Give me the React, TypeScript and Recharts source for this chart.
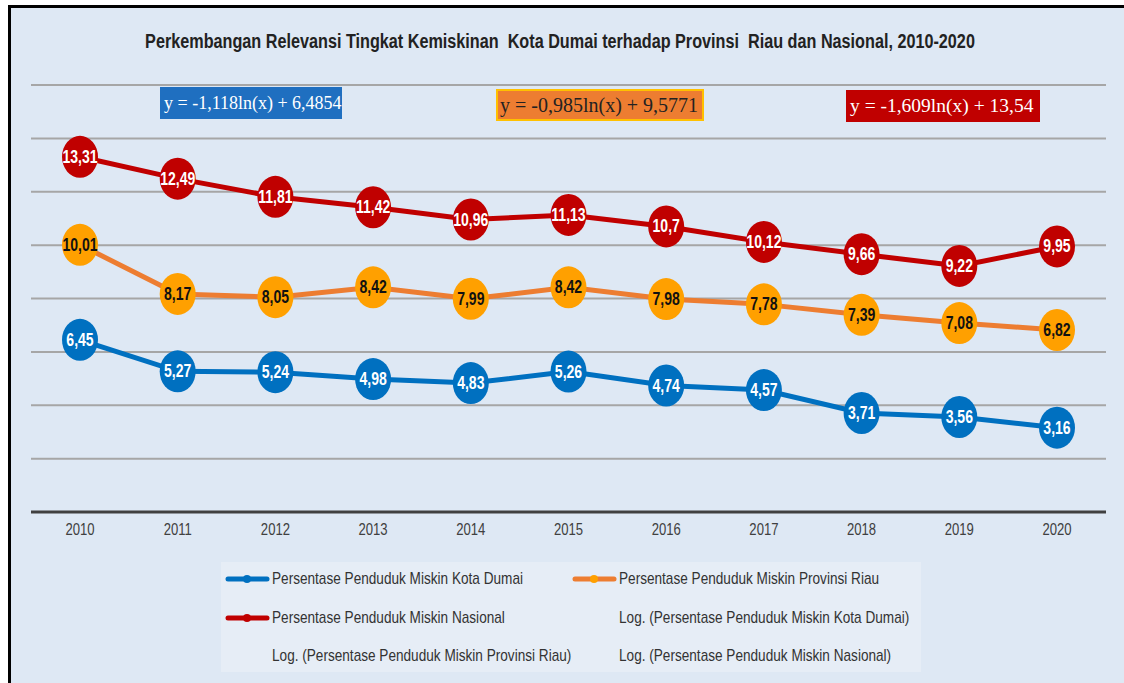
import { LineChart, Line, XAxis, YAxis, CartesianGrid } from 'recharts'

const years = ['2010', '2011', '2012', '2013', '2014', '2015', '2016', '2017', '2018', '2019', '2020']
const dumai = [6.45, 5.27, 5.24, 4.98, 4.83, 5.26, 4.74, 4.57, 3.71, 3.56, 3.16]
const riau = [10.01, 8.17, 8.05, 8.42, 7.99, 8.42, 7.98, 7.78, 7.39, 7.08, 6.82]
const nasional = [13.31, 12.49, 11.81, 11.42, 10.96, 11.13, 10.7, 10.12, 9.66, 9.22, 9.95]
const yTicks = [0, 2, 4, 6, 8, 10, 12, 14, 16]

const title =
  'Perkembangan Relevansi Tingkat Kemiskinan  Kota Dumai terhadap Provinsi  Riau dan Nasional, 2010-2020'
const equations = ['y = -1,118ln(x) + 6,4854', 'y = -0,985ln(x) + 9,5771', 'y = -1,609ln(x) + 13,54']
const legendLabels = [
  'Persentase Penduduk Miskin Kota Dumai',
  'Persentase Penduduk Miskin Provinsi Riau',
  'Persentase Penduduk Miskin Nasional',
  'Log. (Persentase Penduduk Miskin Kota Dumai)',
  'Log. (Persentase Penduduk Miskin Provinsi Riau)',
  'Log. (Persentase Penduduk Miskin Nasional)',
]

const data = years.map((year, i) => ({ year, dumai: dumai[i], riau: riau[i], nasional: nasional[i] }))

const SANS = "'Liberation Sans', Arial, sans-serif"
const SERIF = "'Liberation Serif', 'Times New Roman', serif"
const BLUE = '#0070C0'
const ORANGE_LINE = '#ED7D31'
const ORANGE_DOT = '#FFA000'
const RED = '#C00000'

const fmt = (v: number) => String(v).replace('.', ',')

// no narrow font installed, so squeeze Liberation Sans horizontally
function makeDot(fill: string, textColor: string) {
  return (props: any) => {
    const { cx, cy, value, index } = props
    return (
      <g key={index}>
        <ellipse cx={cx} cy={cy} rx={18} ry={21} fill={fill} />
        <text
          transform={`translate(${cx},${cy + 6}) scale(0.78,1)`}
          textAnchor="middle"
          fill={textColor}
          fontSize={18}
          fontWeight="bold"
          fontFamily={SANS}
        >
          {fmt(value)}
        </text>
      </g>
    )
  }
}

function YearTick(props: any) {
  const { x, y, payload } = props
  return (
    <text
      transform={`translate(${x},${y + 15}) scale(0.77,1)`}
      textAnchor="middle"
      fill="#404040"
      fontSize={17}
      fontFamily={SANS}
    >
      {payload.value}
    </text>
  )
}

const legendItems = [
  { label: legendLabels[0], color: BLUE, dot: BLUE, x: 225, y: 579 },
  { label: legendLabels[1], color: ORANGE_LINE, dot: ORANGE_DOT, x: 572, y: 579 },
  { label: legendLabels[2], color: RED, dot: RED, x: 225, y: 618 },
  { label: legendLabels[3], color: null, dot: null, x: 572, y: 618 },
  { label: legendLabels[4], color: null, dot: null, x: 225, y: 656 },
  { label: legendLabels[5], color: null, dot: null, x: 572, y: 656 },
]

const eqBoxes = [
  { text: equations[0], left: 160, top: 87, width: 182, size: 18, bg: '#1F6FC0', fg: '#fff', border: '#1F6FC0' },
  { text: equations[1], left: 496, top: 89, width: 208, size: 20, bg: '#ED7D31', fg: '#222', border: '#FFC000' },
  { text: equations[2], left: 846, top: 90, width: 194, size: 19.5, bg: RED, fg: '#fff', border: RED },
]

export default function App() {
  return (
    <div style={{ position: 'fixed', left: 0, top: 0, width: 1124, height: 683, overflow: 'hidden' }}>
      <div
        style={{
          position: 'absolute',
          left: 8,
          top: 5,
          width: 1120,
          height: 680,
          background: '#DEE8F4',
          borderLeft: '3px solid #000',
          borderTop: '3px solid #000',
        }}
      />
      <div
        style={{
          position: 'absolute',
          left: 0,
          width: 1124,
          top: 30,
          textAlign: 'center',
          fontFamily: SANS,
          fontWeight: 'bold',
          fontSize: 20,
          color: '#222',
          whiteSpace: 'pre',
          transform: 'translateX(-2px) scaleX(0.81)',
        }}
      >
        {title}
      </div>
      <LineChart
        width={1124}
        height={683}
        data={data}
        margin={{ top: 85, left: 31, right: 18, bottom: 141 }}
        style={{ position: 'absolute', left: 0, top: 0 }}
      >
        <CartesianGrid vertical={false} stroke="#A6A6A6" strokeWidth={2} />
        <XAxis
          dataKey="year"
          height={30}
          padding={{ left: 49, right: 49 }}
          tickLine={false}
          axisLine={{ stroke: '#404040', strokeWidth: 3 }}
          tick={<YearTick />}
        />
        <YAxis hide domain={[0, 16]} ticks={yTicks} />
        <Line
          dataKey="dumai"
          stroke={BLUE}
          strokeWidth={5}
          dot={makeDot(BLUE, '#fff')}
          activeDot={false}
          isAnimationActive={false}
        />
        <Line
          dataKey="riau"
          stroke={ORANGE_LINE}
          strokeWidth={5}
          dot={makeDot(ORANGE_DOT, '#111')}
          activeDot={false}
          isAnimationActive={false}
        />
        <Line
          dataKey="nasional"
          stroke={RED}
          strokeWidth={5}
          dot={makeDot(RED, '#fff')}
          activeDot={false}
          isAnimationActive={false}
        />
      </LineChart>
      {eqBoxes.map((b) => (
        <div
          key={b.text}
          style={{
            position: 'absolute',
            left: b.left,
            top: b.top,
            width: b.width,
            height: 32,
            boxSizing: 'border-box',
            background: b.bg,
            border: `2px solid ${b.border}`,
            color: b.fg,
            fontFamily: SERIF,
            fontSize: b.size,
            lineHeight: '28px',
            paddingLeft: 2,
            whiteSpace: 'pre',
          }}
        >
          {b.text}
        </div>
      ))}
      <div
        style={{
          position: 'absolute',
          left: 221,
          top: 562,
          width: 700,
          height: 110,
          background: '#E6EDF6',
        }}
      />
      {legendItems.map((it) => (
        <div
          key={it.label}
          style={{
            position: 'absolute',
            left: it.x,
            top: it.y - 11,
            height: 22,
            display: 'flex',
            alignItems: 'center',
            fontFamily: SANS,
            fontSize: 17,
            color: '#333',
            whiteSpace: 'pre',
          }}
        >
          <svg width={47} height={12} style={{ visibility: it.color ? 'visible' : 'hidden' }}>
            <line x1={3} y1={6} x2={42} y2={6} stroke={it.color ?? 'none'} strokeWidth={5} strokeLinecap="round" />
            <circle cx={22} cy={6} r={4} fill={it.dot ?? 'none'} />
          </svg>
          <span style={{ display: 'inline-block', transform: 'scaleX(0.8)', transformOrigin: 'left center' }}>
            {it.label}
          </span>
        </div>
      ))}
    </div>
  )
}
